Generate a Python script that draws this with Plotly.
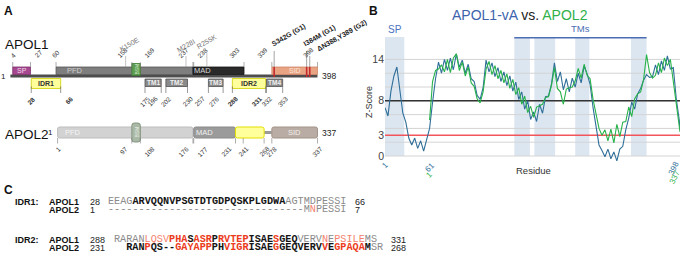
import plotly.graph_objects as go

W, H = 685, 256

# ---------------- Panel A data (residue numbers) ----------------
APOL1_LENGTH = 398
APOL2_LENGTH = 337
APOL2_SHIFT = 61  # APOL2 residue r is drawn under APOL1 residue r + 61

APOL1_UPPER_NAMES = ["SP", "PFD", "MAD", "SID"]
APOL1_UPPER_START = [4, 60, 237, 339]
APOL1_UPPER_END = [27, 237, 303, 398]
APOL1_BSM = [158, 169]
APOL1_LOWER_NAMES = ["IDR1", "TM1", "TM2", "TM3", "IDR2", "TM4"]
APOL1_LOWER_START = [28, 175, 202, 257, 288, 332]
APOL1_LOWER_END = [66, 196, 230, 276, 331, 353]
APOL1_UPPER_TICKS = [4, 27, 60, 158, 169, 237, 238, 303, 339, 398]
APOL1_LOWER_TICKS = [28, 66, 175, 196, 202, 230, 257, 276, 288, 331, 332, 353]
VARIANT_LABELS = ["K150E", "M228I", "R255K", "S342G (G1)", "I384M (G1)", "ΔN388,Y389 (G2)"]
VARIANT_RESIDUES = [150, 228, 255, 342, 384, 388]
VARIANT_RISK = [False, False, False, True, True, True]

APOL2_NAMES = ["PFD", "MAD", "", "SID"]
APOL2_START = [1, 177, 231, 278]
APOL2_END = [176, 231, 268, 337]
APOL2_BSM = [97, 108]
APOL2_TICKS = [1, 97, 108, 176, 177, 231, 241, 268, 278, 337]

# ---------------- Panel B data ----------------
B_RES_APOL1 = [1, 5, 9, 13, 17, 21, 25, 29, 33, 37, 41, 45, 49, 53, 57, 61, 65, 69, 73, 77,
               81, 85, 89, 93, 97, 101, 105, 109, 113, 117, 121, 125, 129, 133, 137, 141, 145, 149, 153, 157,
               161, 165, 169, 173, 177, 181, 185, 189, 193, 197, 201, 205, 209, 213, 217, 221, 225, 229, 233, 237,
               241, 245, 249, 253, 257, 261, 265, 269, 273, 277, 281, 285, 289, 293, 297, 301, 305, 309, 313, 317,
               321, 325, 329, 333, 337, 341, 345, 349, 353, 357, 361, 365, 369, 373, 377, 381, 385, 389, 393, 397, 398]
Z_APOL1 = [7.0, 5.8, 9.4, 11.6, 12.9, 9.8, 6.2, 4.9, 2.6, 1.6,
           2.6, 1.1, 2.2, 0.7, 2.4, 4.0, 7.8, 11.2, 13.6, 12.0,
           14.0, 12.4, 14.2, 12.5, 14.8, 12.9, 13.9, 12.0, 13.3, 11.2,
           10.8, 8.8, 8.2, 9.9, 13.9, 12.2, 13.5, 11.5, 12.8, 10.8,
           12.2, 10.2, 11.6, 9.4, 10.7, 8.2, 9.3, 6.8, 8.0, 5.3,
           6.4, 5.0, 7.5, 6.2, 8.6, 8.7, 10.4, 13.5, 10.8, 12.2,
           9.6, 11.2, 9.3, 11.3, 10.0, 12.0, 10.6, 13.0, 11.9, 10.4,
           7.0, 4.6, 1.6, 0.8, -0.1, 1.0, -0.4, 0.6, -0.7, 1.0,
           1.4, 3.8, 5.5, 7.8, 6.8, 9.0, 9.8, 11.0, 11.8, 11.4,
           11.5, 13.2, 11.8, 13.8, 12.4, 14.5, 12.6, 12.8, 8.3, 5.2, 3.8]
B_RES_APOL2 = [61, 65, 69, 73, 77, 81, 85, 89, 93, 97,
               101, 105, 109, 113, 117, 121, 125, 129, 133, 137,
               141, 145, 149, 153, 157, 161, 165, 169, 173, 177,
               181, 185, 189, 193, 197, 201, 205, 209, 213, 217,
               221, 225, 229, 233, 237, 241, 245, 249, 253, 257,
               261, 265, 269, 273, 277, 281, 285, 289, 293, 297,
               301, 305, 309, 313, 317, 321, 325, 329, 333, 337,
               341, 345, 349, 353, 357, 361, 365, 369, 373, 377,
               381, 385, 389, 393, 397, 398]
Z_APOL2 = [5.2, 10.8, 12.4, 12.6, 13.2, 12.2, 14.0, 12.1, 14.2, 14.8,
           12.4, 13.6, 11.6, 12.9, 10.6, 10.1, 8.3, 7.7, 9.3, 12.6,
           13.7, 11.8, 13.1, 11.2, 12.4, 10.6, 11.9, 9.8, 11.1, 8.9,
           9.9, 7.5, 8.7, 6.3, 7.2, 5.6, 7.1, 7.3, 7.5, 8.5,
           8.6, 10.2, 12.8, 9.8, 9.3, 7.5, 9.7, 9.9, 10.0, 10.9,
           12.7, 11.3, 13.3, 11.7, 11.2, 8.2, 6.2, 4.0, 3.0, 3.8,
           2.2, 3.9, 1.9, 4.6, 2.8, 4.9, 5.0, 7.1, 5.7, 8.3,
           9.0, 9.3, 11.1, 14.7, 12.1, 11.3, 11.7, 13.5, 12.1, 14.2,
           13.1, 14.0, 10.8, 7.2, 4.2, 3.5]
SP_REGION = [1, 27]
TM_START = [175, 202, 257, 332]
TM_END = [196, 230, 276, 353]
GRID_Z = [0, 2, 4, 6, 8, 10, 12, 14]
THRESHOLD_HIGH = 8
THRESHOLD_LOW = 3
Y_TICKS = [0, 3, 8, 14]

# ---------------- Panel C data ----------------
IDR1_APOL1 = "EEAGARVQQNVPSGTDTGDPQSKPLGDWAAGTMDPESSI"
IDR1_APOL1_STYLE = "gggg" + "bbbbbbbbbbbbbbbbbbbbbbbbb" + "gggggggggg"
IDR1_APOL2 = "--------------------------------MNPESSI"
IDR1_APOL2_STYLE = "gggggggggggggggggggggggggggggggg" + "gsggggg"
IDR2_APOL1 = "RARANLQSVPHASASRPRVTEPISAESGEQVERVNEPSILEMS"
IDR2_APOL1_STYLE = "ggggg" + "ssss" + "rrrbrrrbrrrrr" + "bbbb" + "r" + "bbb" + "gggg" + "sg" + "sssss" + "gg"
IDR2_APOL2 = "  RANPQS--GAYAPPPHVIGRISAEGGEQVERVVEGPAQAMSR"
IDR2_APOL2_STYLE = "  " + "bbbrbbbb" + "rrrrrr" + "bbrrrr" + "bbbb" + "r" + "bbbbbbb" + "rb" + "rrrrr" + "b" + "gg"
IDR_NAMES = ["IDR1:", "IDR2:"]
IDR_APOL1_RANGE = [(28, 66), (288, 331)]
IDR_APOL2_RANGE = [(1, 7), (231, 268)]

# ---------------- helpers ----------------
A_X1 = 10.4      # pixel of APOL1 residue 1
A_K = 0.7735     # pixels per residue
X2_RANGE = [1 - A_X1 / A_K, 1 + (W - A_X1) / A_K]


def P(x, y):
    return dict(x=x / W, y=1 - y / H, xref="paper", yref="paper")


FONT = "Arial, Liberation Sans, sans-serif"
MONO = "Liberation Mono, Courier New, monospace"

shapes = []
ann = []


def text(x, y, t, size=8, color="#222", xa="center", ya="middle", angle=0, ref="paper", bold=False, family=FONT):
    if bold:
        t = "<b>" + t + "</b>"
    if ref == "paper":
        d = P(x, y)
    else:
        d = dict(x=x, y=y, xref="x2", yref="y2")
    d.update(text=t, showarrow=False, xanchor=xa, yanchor=ya, textangle=angle,
             font=dict(size=size, color=color, family=family))
    ann.append(d)


def rect(r0, r1, y0, y1, fill, line="rgba(0,0,0,0)", lw=0.8, layer="above"):
    shapes.append(dict(type="rect", xref="x2", yref="y2", x0=r0, x1=r1, y0=y0, y1=y1,
                       fillcolor=fill, line=dict(color=line, width=lw), layer=layer))


def rrect(r0, r1, y0, y1, fill, line, lw=0.8, rad=2.0):
    rx = rad / A_K
    ry = rad
    p = (f"M{r0+rx},{y0} L{r1-rx},{y0} Q{r1},{y0} {r1},{y0+ry} L{r1},{y1-ry} Q{r1},{y1} {r1-rx},{y1} "
         f"L{r0+rx},{y1} Q{r0},{y1} {r0},{y1-ry} L{r0},{y0+ry} Q{r0},{y0} {r0+rx},{y0} Z")
    shapes.append(dict(type="path", xref="x2", yref="y2", path=p, fillcolor=fill,
                       line=dict(color=line, width=lw), layer="above"))


def vline2(r, y0, y1, color="#555", width=0.7):
    shapes.append(dict(type="line", xref="x2", yref="y2", x0=r, x1=r, y0=y0, y1=y1,
                       line=dict(color=color, width=width), layer="above"))


# ================= Panel A =================
text(2, 2, "A", size=12, xa="left", ya="top", bold=True, color="#111")
text(3, 44, "APOL1", size=13.5, xa="left", color="#111")

Y_TOP0, Y_TOP1 = 67, 74.5
Y_LINE0, Y_LINE1 = 74.5, 77.5
Y_LOW0, Y_LOW1 = 78.5, 88.5
rect(1, APOL1_LENGTH, Y_LINE0, Y_LINE1, "#4d4d4d")
text(8, 76, "1", size=8, xa="right", color="#222")
text(320, 76, str(APOL1_LENGTH), size=8.5, xa="left", color="#222")

upper_style = {
    "SP": ("#a5488f", "#7d2e6a", "#f3d9ec"),
    "PFD": ("#7e7e7e", "#555555", "#cfcfcf"),
    "MAD": ("#2a2a2a", "#111111", "#d5d5d5"),
    "SID": ("#e9a484", "#cf8464", "#f7e4da"),
}
for nm, s, e in zip(APOL1_UPPER_NAMES, APOL1_UPPER_START, APOL1_UPPER_END):
    fill, ln, tc = upper_style[nm]
    rect(s, e, Y_TOP0, Y_TOP1, fill, ln)
    if nm == "PFD":
        text(s + 25, (Y_TOP0 + Y_TOP1) / 2, nm, size=7.5, color=tc, ref="x2")
    elif nm == "MAD":
        text(s + 12, (Y_TOP0 + Y_TOP1) / 2, nm, size=7.5, color=tc, ref="x2")
    else:
        text((s + e) / 2, (Y_TOP0 + Y_TOP1) / 2, nm, size=7, color=tc, ref="x2")

rect(APOL1_BSM[0], APOL1_BSM[1], 63.5, 75.5, "#5e9c50", "#3d7a33")
text(sum(APOL1_BSM) / 2, 69.5, "BSM", size=5, color="#d9efd3", angle=-90, ref="x2")

for lab, r, risk in zip(VARIANT_LABELS, VARIANT_RESIDUES, VARIANT_RISK):
    if risk:
        vline2(r, Y_TOP0, Y_TOP1 + 2.5, color="#c42a2e", width=1.6)

lower_style = {"IDR": ("#ffff9c", "#d9d92a", "#333333"), "TM": ("#8a8a8a", "#505050", "#f0f0f0")}
for nm, s, e in zip(APOL1_LOWER_NAMES, APOL1_LOWER_START, APOL1_LOWER_END):
    key = "IDR" if nm.startswith("IDR") else "TM"
    fill, ln, tc = lower_style[key]
    if key == "IDR":
        rect(s, e, Y_LOW0, Y_LOW1, fill, ln, lw=1)
        text((s + e) / 2, (Y_LOW0 + Y_LOW1) / 2, nm, size=7, color=tc, ref="x2", bold=True)
    else:
        rect(s, e, 79, 86.5, fill, ln)
        text((s + e) / 2, 82.8, nm, size=6.5, color=tc, ref="x2", bold=True)

upper_anchor = {4: "center", 27: "left", 60: "center", 158: "right", 169: "left",
                237: "right", 238: "left", 303: "right", 339: "right", 398: "right"}
for r in APOL1_UPPER_TICKS:
    vline2(r, 62, Y_TOP0, color="#777", width=0.6)
    text(r, 62, str(r), size=6.5, color="#333", xa=upper_anchor[r], ya="bottom", angle=-45, ref="x2")

lower_anchor = {28: "center", 66: "left", 175: "center", 196: "right", 202: "center", 230: "center",
                257: "right", 276: "right", 288: "center", 331: "right", 332: "center", 353: "center"}
bold_lower = {28, 66, 288, 331}
for r in APOL1_LOWER_TICKS:
    vline2(r, 86.5, 93, color="#555", width=0.6)
    text(r, 92, str(r), size=6.5, color="#333", xa=lower_anchor[r], ya="top", angle=-45, ref="x2",
         bold=(r in bold_lower))

var_dx = [-10, -13, -14, -6, -7, 3]
var_yb = [56, 56, 53, 51, 51, 56]
for lab, r, risk, dx, yb in zip(VARIANT_LABELS, VARIANT_RESIDUES, VARIANT_RISK, var_dx, var_yb):
    vline2(r, yb, Y_TOP0, color="#999" if not risk else "#666", width=0.6)
    text(r + dx / A_K, yb, lab, size=7, color="#222" if risk else "#777", xa="left", ya="bottom",
         angle=-30, ref="x2", bold=risk)

# ---- APOL2 ----
text(3, 134, "APOL2", size=13.5, xa="left", color="#111")
Y2_0, Y2_1 = 127, 138
text(APOL2_SHIFT + 1 - 3, 132.5, "1", size=8, xa="right", color="#222", ref="x2")
text(APOL2_LENGTH + APOL2_SHIFT + 3, 132.5, str(APOL2_LENGTH), size=8.5, xa="left", color="#222", ref="x2")
rect(APOL2_SHIFT + 268, APOL2_SHIFT + 278, 131, 134, "#9a9a9a")
apol2_style = [("#d2d2d2", "#bdbdbd", "#f4f4f4"), ("#9b9b9b", "#8a8a8a", "#f2f2f2"),
               ("#ffff9c", "#e2e000", "#333"), ("#b9aca4", "#a39389", "#f4efeb")]
for nm, s, e, st in zip(APOL2_NAMES, APOL2_START, APOL2_END, apol2_style):
    rrect(s + APOL2_SHIFT, e + APOL2_SHIFT, Y2_0, Y2_1, st[0], st[1], lw=1)
    if nm == "PFD":
        text(s + APOL2_SHIFT + 20, 132.5, nm, size=7.5, color=st[2], ref="x2")
    elif nm == "MAD":
        text(s + APOL2_SHIFT + 14, 132.5, nm, size=7.5, color=st[2], ref="x2")
    elif nm:
        text((s + e) / 2 + APOL2_SHIFT, 132.5, nm, size=7.5, color=st[2], ref="x2")
rrect(APOL2_BSM[0] + APOL2_SHIFT, APOL2_BSM[1] + APOL2_SHIFT, 123, 142, "#a9b9a5", "#859582", lw=1, rad=2.5)
text(sum(APOL2_BSM) / 2 + APOL2_SHIFT, 132.5, "BSM", size=5, color="#eef3ec", angle=-90, ref="x2")

apol2_anchor = {1: "center", 97: "right", 108: "left", 176: "right", 177: "left", 231: "right",
                241: "center", 268: "center", 278: "center", 337: "center"}
for r in APOL2_TICKS:
    vline2(r + APOL2_SHIFT, Y2_1, 143.5, color="#777", width=0.6)
    text(r + APOL2_SHIFT, 142.5, str(r), size=6.5, color="#333", xa=apol2_anchor[r], ya="top",
         angle=-45, ref="x2")

# ================= Panel B =================
BX0, BX1 = 385, 680
Z_RANGE = [-1.5, 17.25]
BY_TOP, BY_BOT = 37, 166.35

text(367, 2, "B", size=12, xa="left", ya="top", bold=True, color="#111")
text(520, 15, "<span style='color:#3d63ad'>APOL1-vA</span> <span style='color:#222'>vs.</span> "
     "<span style='color:#2fb04a'>APOL2</span>", size=14)

band_color = "#dce6f1"
shapes.append(dict(type="rect", xref="x", yref="y", x0=SP_REGION[0], x1=SP_REGION[1], y0=0, y1=Z_RANGE[1],
                   fillcolor=band_color, line=dict(width=0), layer="below"))
for s, e in zip(TM_START, TM_END):
    shapes.append(dict(type="rect", xref="x", yref="y", x0=s, x1=e, y0=0, y1=Z_RANGE[1],
                       fillcolor=band_color, line=dict(width=0), layer="below"))
for z in GRID_Z:
    shapes.append(dict(type="line", xref="x", yref="y", x0=1, x1=APOL1_LENGTH, y0=z, y1=z,
                       line=dict(color="#d4d4d4", width=1), layer="below"))
shapes.append(dict(type="line", xref="x", yref="y", x0=1, x1=APOL1_LENGTH, y0=THRESHOLD_HIGH, y1=THRESHOLD_HIGH,
                   line=dict(color="#333333", width=1.6), layer="below"))
shapes.append(dict(type="line", xref="x", yref="y", x0=1, x1=APOL1_LENGTH, y0=THRESHOLD_LOW, y1=THRESHOLD_LOW,
                   line=dict(color="#f2555a", width=1.4), layer="below"))
shapes.append(dict(type="line", xref="x", yref="y", x0=TM_START[0], x1=TM_END[-1], y0=Z_RANGE[1] - 0.1,
                   y1=Z_RANGE[1] - 0.1, line=dict(color="#4a6db3", width=1.6), layer="above"))

ann.append(dict(x=sum(SP_REGION) / 2, y=Z_RANGE[1], xref="x", yref="y", text="SP", showarrow=False,
                yanchor="bottom", font=dict(size=10, color="#4a72c0", family=FONT)))
ann.append(dict(x=(TM_START[0] + TM_END[-1]) / 2, y=Z_RANGE[1], xref="x", yref="y", text="TMs", showarrow=False,
                yanchor="bottom", yshift=1, font=dict(size=9.5, color="#4a6db3", family=FONT)))
text(369, 102, "Z-Score", size=9, color="#333", angle=-90)
text(533, 170, "Residue", size=9.5, color="#333")
ann.append(dict(x=1, y=0, xref="x", yref="y", text="1", showarrow=False, xanchor="center", yanchor="top",
                yshift=-2, textangle=-45, font=dict(size=8, color="#2f6f99", family=FONT)))
ann.append(dict(x=B_RES_APOL2[0], y=0, xref="x", yref="y", text="61", showarrow=False, xanchor="center",
                yanchor="top", yshift=-2, textangle=-45, font=dict(size=8, color="#2f6f99", family=FONT)))
ann.append(dict(x=B_RES_APOL2[0], y=0, xref="x", yref="y", text="1", showarrow=False, xanchor="center",
                yanchor="top", yshift=-11, textangle=-45, font=dict(size=8, color="#2fb04a", family=FONT)))
ann.append(dict(x=APOL1_LENGTH, y=0, xref="x", yref="y", text=str(APOL1_LENGTH), showarrow=False,
                xanchor="right", xshift=4, yanchor="top", yshift=-1, textangle=-65,
                font=dict(size=8, color="#2f6f99", family=FONT)))
ann.append(dict(x=APOL1_LENGTH, y=0, xref="x", yref="y", text=str(APOL2_LENGTH), showarrow=False,
                xanchor="right", xshift=5, yanchor="top", yshift=-10, textangle=-65,
                font=dict(size=8, color="#2fb04a", family=FONT)))

# ================= Panel C =================
text(2, 181, "C", size=12, xa="left", ya="top", bold=True, color="#111")
COLORS = {"g": ("#8a8a8a", False), "d": ("#555555", False), "b": ("#151515", True),
          "r": ("#ec3b1c", True), "s": ("#f4806c", False), " ": ("#000", False)}


def seq_html(seq, style):
    style = (style + "g" * len(seq))[:len(seq)]
    out = []
    i = 0
    while i < len(seq):
        j = i
        while j < len(seq) and style[j] == style[i]:
            j += 1
        chunk = seq[i:j].replace(" ", "\u00a0")
        col, b = COLORS[style[i]]
        span = f"<span style='color:{col}'>{chunk}</span>"
        out.append(f"<b>{span}</b>" if b else span)
        i = j
    return "".join(out)


SEQ_X = [106, 111.7]
ROW_Y = [(201.5, 209.5), (239.5, 247.5)]
seqs = [(IDR1_APOL1, IDR1_APOL1_STYLE, IDR1_APOL2, IDR1_APOL2_STYLE),
        (IDR2_APOL1, IDR2_APOL1_STYLE, IDR2_APOL2, IDR2_APOL2_STYLE)]
for k in range(2):
    y1, y2 = ROW_Y[k]
    s1, st1, s2, st2 = seqs[k]
    text(13, y1, IDR_NAMES[k], size=9, xa="left", bold=True, color="#111")
    text(47, y1, "APOL1", size=9, xa="left", bold=True, color="#111")
    text(47, y2, "APOL2", size=9, xa="left", bold=True, color="#111")
    text(88, y1, str(IDR_APOL1_RANGE[k][0]), size=9, xa="left", color="#222")
    text(88, y2, str(IDR_APOL2_RANGE[k][0]), size=9, xa="left", color="#222")
    text(SEQ_X[k], y1, seq_html(s1, st1), size=10.2, xa="left", family=MONO)
    text(SEQ_X[k], y2, seq_html(s2, st2), size=10.2, xa="left", family=MONO)
    endx = SEQ_X[k] + max(len(s1), len(s2)) * 6.12 + 8
    text(endx, y1, str(IDR_APOL1_RANGE[k][1]), size=9, xa="left", color="#222")
    text(endx, y2, str(IDR_APOL2_RANGE[k][1]), size=9, xa="left", color="#222")

# ================= traces =================
fig = go.Figure()
fig.add_trace(go.Scatter(x=B_RES_APOL1, y=Z_APOL1, mode="lines", line=dict(color="#2f6f99", width=1.1),
                         showlegend=False, hoverinfo="skip", xaxis="x", yaxis="y"))
fig.add_trace(go.Scatter(x=B_RES_APOL2, y=Z_APOL2, mode="lines", line=dict(color="#27b24a", width=1.1),
                         showlegend=False, hoverinfo="skip", xaxis="x", yaxis="y"))

fig.update_layout(
    width=W, height=H, margin=dict(l=0, r=0, t=0, b=0),
    paper_bgcolor="white", plot_bgcolor="rgba(0,0,0,0)",
    font=dict(family=FONT),
    xaxis=dict(domain=[BX0 / W, BX1 / W], range=[1, APOL1_LENGTH], visible=False, fixedrange=True, anchor="y"),
    yaxis=dict(domain=[1 - BY_BOT / H, 1 - BY_TOP / H], range=Z_RANGE, tickvals=Y_TICKS,
               showgrid=False, zeroline=False, showline=False, ticks="", fixedrange=True, anchor="x",
               tickfont=dict(size=10.5, color="#444", family=FONT)),
    xaxis2=dict(domain=[0, 1], range=X2_RANGE, visible=False, fixedrange=True, anchor="y2"),
    yaxis2=dict(domain=[0, 1], range=[H, 0], visible=False, fixedrange=True, anchor="x2"),
    shapes=shapes, annotations=ann,
)

fig.write_html("out.html", config={"displayModeBar": False},
               post_script="document.body.style.margin='0';document.body.style.overflow='hidden';")
